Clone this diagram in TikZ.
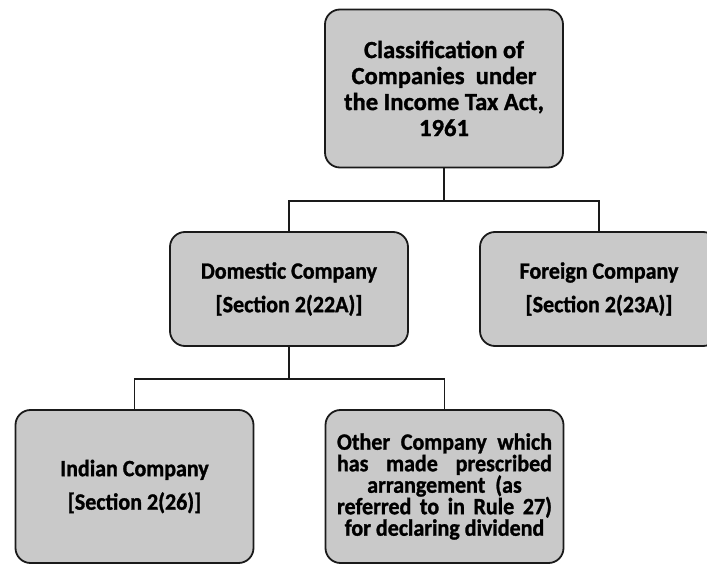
\documentclass[tikz,border=0pt]{standalone}
\usepackage{fontspec}
\setmainfont{Carlito}[BoldFeatures={FakeBold=1.2}]
\newfontfamily\narrowfont{Carlito}[FakeStretch=0.94,BoldFeatures={FakeBold=1.2}]
\usepackage{xcolor}
\definecolor{boxfill}{HTML}{C9C9C9}
\definecolor{ink}{HTML}{1A1A1A}
\usepackage{tikz}
\usetikzlibrary{positioning,calc}
\tikzset{
  box/.style={draw=ink,fill=boxfill,rounded corners=15pt,line width=1.8pt,
    minimum width=238pt,inner sep=0pt,align=center,
    font=\narrowfont\bfseries\fontsize{23.4}{33.5}\selectfont},
  tbox/.style={box,font=\bfseries\fontsize{24.6}{26}\selectfont},
  sbox/.style={box,font=\narrowfont\bfseries\fontsize{23.4}{21.5}\selectfont},
  link/.style={draw=ink,line width=1.8pt},
}
\newcommand{\fullline}[1]{\makebox[215pt][s]{#1}}
\begin{document}
\begin{tikzpicture}[x=1pt,y=-1pt]
\clip (0,0) rectangle (707,564);
% top level
\node[tbox,minimum height=158pt] (cls) at (444,88.5)
  {Classification of\\Companies\ \ under\\the Income Tax Act,\\1961};
% second level
\node[box,minimum height=114pt] (dom) at (289,289)
  {Domestic Company\\{[Section 2(22A)]}};
\node[box,minimum height=114pt] (frn) at (599,289)
  {Foreign Company\\{[Section 2(23A)]}};
% third level
\node[box,minimum height=153pt] (ind) at (134.5,486.5)
  {Indian Company\\{[Section 2(26)]}};
\node[sbox,minimum height=153pt] (oth) at (444.5,486.5)
  {\fullline{Other Company which}\\\fullline{has made prescribed}\\arrangement\ \ (as\\
   \fullline{referred to in Rule 27)}\\for declaring dividend};
% connectors
\draw[link] (cls.south) -- ++(0,33) -| (dom.north);
\draw[link] (cls.south) -- ++(0,33) -| (frn.north);
\draw[link] (dom.south) -- ++(0,32) -| (ind.north);
\draw[link] (dom.south) -- ++(0,32) -| (oth.north);
\end{tikzpicture}
\end{document}
